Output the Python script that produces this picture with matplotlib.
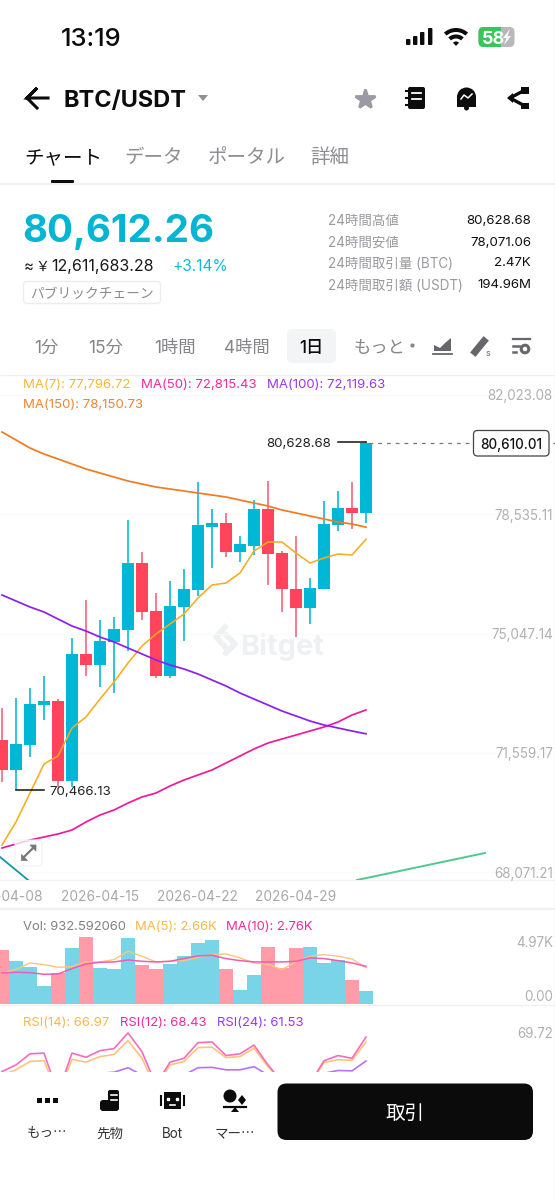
import matplotlib
matplotlib.use("Agg")
import matplotlib.pyplot as plt
from matplotlib.patches import FancyBboxPatch, Rectangle, Circle, Wedge, Polygon

FONT = ['Inter', 'Noto Sans CJK JP', 'DejaVu Sans']
JP = ['Noto Sans CJK JP', 'DejaVu Sans']
plt.rcParams['font.family'] = FONT

# ---------- data ----------
start_dates = ['2026-04-08', '2026-04-15', '2026-04-22', '2026-04-29']
date_idx = [0, 7, 14, 21]
opens = [71938, 71062, 71792, 72960, 73076, 70741, 74448, 74127, 74799, 75149, 77105, 75704, 73806, 75820,
         76317, 78156, 78272, 77426, 77601, 78681, 77397, 76346, 75791, 76346, 78214, 78710, 78564]
closes = [71062, 71821, 72989, 73076, 70741, 74448, 74127, 74828, 75178, 77105, 75674, 73806, 75850, 76346,
          78214, 78272, 77426, 77659, 78681, 77367, 76346, 75791, 76375, 78243, 78710, 78564, 80610.01]
highs = [72872, 73164, 73456, 73806, 73135, 74915, 76025, 75441, 75528, 78360, 77426, 76229, 76579, 76930,
         79469, 78681, 78564, 77893, 78944, 79498, 77455, 77893, 76667, 78914, 79206, 79469, 80628.68]
lows = [70712, 70466.13, 71442, 72522, 70566, 70566, 73806, 73485, 73310, 74536, 75441, 73748, 73748, 74828,
        76141, 76959, 77280, 77134, 77338, 76463, 75674, 74945, 75324, 76346, 78039, 78097, 78272]
ma7 = [68873, 69545, 70391, 71238, 71471, 72289, 72610, 73135, 73631, 74186, 74682, 75033, 75324, 75616,
       76083, 76463, 76521, 76813, 77455, 77718, 77718, 77397, 77105, 77251, 77368, 77339, 77796.72]
ma50 = [68786, 68903, 69019, 69107, 69195, 69311, 69545, 69749, 69895, 70099, 70275, 70391, 70596, 70771,
        70917, 71063, 71267, 71471, 71676, 71851, 71968, 72084, 72201, 72318, 72464, 72668, 72815.43]
ma100 = [76171, 75996, 75821, 75675, 75470, 75266, 75120, 74945, 74799, 74624, 74449, 74274, 74128, 74011,
         73865, 73690, 73515, 73310, 73135, 72960, 72785, 72639, 72493, 72376, 72289, 72201, 72119.63]
ma150 = [80929, 80695, 80462, 80287, 80141, 79995, 79849, 79732, 79615, 79499, 79411, 79323, 79265, 79207,
         79148, 79090, 79032, 78944, 78856, 78769, 78652, 78565, 78477, 78389, 78302, 78243, 78150.73]
teal_x = [-0.14, 1.86]
teal_y = [68523, 67852]
green_x = [25.36, 34.5]
green_y = [67852, 68640]
price_ticks = [82023.08, 78535.11, 75047.14, 71559.17, 68071.21]
price_labels = ['82,023.08', '78,535.11', '75,047.14', '71,559.17', '68,071.21']

vol = [3969, 3185, 2720, 1299, 2279, 4092, 4925, 2646, 2597, 4827, 2891, 2597, 2940, 3528,
       4484, 4680, 2597, 1029, 2156, 4190, 2646, 4116, 4214, 3038, 3210, 1789, 932.59]
vol_ma5 = [2279, 2524, 3014, 2891, 2695, 2744, 3087, 3087, 3259, 3871, 3504, 3087, 3136, 3185,
           3430, 3626, 3675, 3381, 3014, 2891, 2524, 3087, 3504, 3626, 3504, 3308, 2660]
vol_ma10 = [2279, 2328, 2303, 2181, 2205, 2597, 2940, 3063, 3087, 3234, 3136, 3087, 3136, 3332,
            3528, 3577, 3332, 3185, 3087, 3087, 3087, 3136, 3381, 3332, 3185, 3014, 2760]
rsi14 = [57.5, 59.0, 61.4, 61.6, 51.8, 62.0, 61.2, 62.8, 63.4, 67.4, 62.3, 53.7, 60.4, 61.4,
         65.4, 65.5, 62.5, 62.8, 65.2, 59.9, 55.6, 52.3, 54.6, 61.1, 61.9, 61.7, 66.97]
rsi12 = [58.5, 60.4, 63.6, 63.8, 52.3, 63.8, 62.6, 64.5, 65.1, 69.6, 64.2, 54.6, 61.2, 62.3,
         66.8, 67.0, 63.1, 63.6, 66.1, 60.4, 55.6, 51.8, 55.1, 61.6, 63.1, 62.3, 68.43]
rsi24 = [54.6, 55.6, 57.0, 57.3, 51.8, 57.5, 56.6, 58.0, 58.3, 59.6, 57.5, 53.2, 56.6, 57.5,
         59.6, 59.7, 59.0, 59.0, 59.9, 57.5, 54.6, 52.7, 54.2, 58.0, 58.8, 58.7, 61.53]
stat_labels = ['24時間高値', '24時間安値', '24時間取引量 (BTC)', '24時間取引額 (USDT)']
stat_values = ['80,628.68', '78,071.06', '2.47K', '194.96M']
intervals = ['1分', '15分', '1時間', '4時間', '1日', 'もっと']
interval_x = [46, 106, 175, 247, 311, 379]
tabs = ['チャート', 'データ', 'ポータル', '詳細']
tab_x = [63, 154, 247, 330]

# ---------- style ----------
CYAN = '#00b7d5'
RED = '#ff445c'
P2 = 1 / 1.3889  # px to pt at 100 dpi
W, H = 555, 1200
XL = (-1 / 7, 553 / 14)

fig = plt.figure(figsize=(5.55, 12), dpi=100, facecolor='white')


def pax(y0, y1):
    a = fig.add_axes([0, 1 - y1 / H, 1, (y1 - y0) / H])
    a.set_facecolor('none')
    a.set_xlim(*XL)
    for s in a.spines.values():
        s.set_visible(False)
    return a


ui = fig.add_axes([0, 0, 1, 1], zorder=0)
ui.set_xlim(0, W)
ui.set_ylim(H, 0)
ui.axis('off')


def T(x, y, s, px, c='#111111', ha='left', w='normal', z=5, ax=ui, fam=FONT):
    ax.text(x, y, s, fontsize=px * P2, color=c, ha=ha, va='center_baseline', fontweight=w, zorder=z, family=fam)


def hline(y, x0=0, x1=W, c='#f0f0f2', lw=1.0):
    ui.plot([x0, x1], [y, y], color=c, lw=lw, solid_capstyle='butt', zorder=1)


# ---- status bar ----
T(61, 37, '13:19', 25.5, '#0c0c0c', w='medium')
for x, h in zip([406, 413, 420, 428], [6, 9, 13, 17]):
    ui.add_patch(FancyBboxPatch((x, 45 - h), 4.4, h, boxstyle='round,pad=0,rounding_size=1', fc='#0c0c0c', ec='none'))
for r0, r1 in [(0, 4.5), (7.5, 11.5), (14, 18)]:
    ui.add_patch(Wedge((456, 46), r1, 228, 312, width=r1 - r0, fc='#0c0c0c', ec='none'))
ui.add_patch(FancyBboxPatch((478.5, 27), 36, 20, boxstyle='round,pad=0,rounding_size=5', fc='#b8b8ba', ec='none', zorder=2))
ui.add_patch(FancyBboxPatch((478.5, 27), 22, 20, boxstyle='round,pad=0,rounding_size=5', fc='#36c65c', ec='none', zorder=2))
ui.add_patch(Rectangle((494, 27), 6.5, 20, fc='#36c65c', ec='none', zorder=2))
T(482, 37, '58', 18, 'white', w='bold')
ui.add_patch(Polygon([[510, 29], [503, 38], [506.5, 38], [504, 45], [511, 36], [507.5, 36]], fc='white', ec='none', zorder=6))

# ---- header ----
ui.plot([48, 27, 37, 27, 37], [98, 98, 88, 98, 108], color='#0c0c0c', lw=2.2, solid_joinstyle='miter', zorder=5)
T(63.5, 98, 'BTC/USDT', 23.5, '#0c0c0c', w='bold')
ui.add_patch(Polygon([[198, 95], [208, 95], [203, 101]], fc='#909096', ec='none'))
ui.plot([364.5], [98.5], marker='*', ms=15, color='#9a9aa4', mec='#9a9aa4', mew=2)
ui.add_patch(FancyBboxPatch((408, 87), 17, 22, boxstyle='round,pad=0,rounding_size=2', fc='#0c0c0c', ec='none'))
for y in [93, 99]:
    ui.plot([412, 421], [y, y], color='white', lw=1.3, zorder=6)
for y in [91, 98, 105]:
    ui.plot([405.5, 410], [y, y], color='#0c0c0c', lw=1.5, zorder=6)
ui.add_patch(Circle((466.5, 97), 9.5, fc='#0c0c0c', ec='none'))
ui.add_patch(Rectangle((457, 97), 19, 8, fc='#0c0c0c', ec='none'))
ui.add_patch(Rectangle((457, 104.5), 19, 2, fc='#0c0c0c', ec='none'))
ui.add_patch(Circle((466.5, 108), 2.5, fc='#0c0c0c', ec='none'))
ui.plot([461, 464, 468, 472], [99, 95, 98, 94], color='white', lw=1.1, zorder=6)
ui.add_patch(Rectangle((521, 87), 8, 6.5, fc='#0c0c0c', ec='none'))
ui.add_patch(Rectangle((521, 102.5), 8, 6.5, fc='#0c0c0c', ec='none'))
ui.add_patch(Polygon([[507, 98], [513, 93], [513, 103]], fc='#0c0c0c', ec='none'))
ui.plot([525, 510, 525], [90, 98, 106], color='#0c0c0c', lw=2.4)

# ---- tabs ----
for i, (x, s) in enumerate(zip(tab_x, tabs)):
    T(x, 156, s, 19.5, '#0c0c0c' if i == 0 else '#8d8d92', ha='center')
ui.add_patch(FancyBboxPatch((51, 180), 23, 3, boxstyle='round,pad=0,rounding_size=1', fc='#0c0c0c', ec='none', zorder=3))
hline(183.5, c='#eeeeee', lw=1.2)

# ---- price block ----
T(22, 228, '80,612.26', 38.5, '#03b5d3', w='bold')
T(24, 265, '≈', 15, '#1a1a1a')
T(35, 265, '￥', 14, '#1a1a1a', fam=JP)
T(51, 265, '12,611,683.28', 16, '#1a1a1a')
T(172, 265, '+3.14%', 15.5, '#12bcd8')
ui.add_patch(FancyBboxPatch((23.5, 281.5), 137, 22, boxstyle='round,pad=0,rounding_size=4', fc='white', ec='#ececee', lw=1))
T(92, 292.5, 'パブリックチェーン', 13.7, '#8a8a8f', ha='center')
for y, s, v in zip([219, 241, 262, 284], stat_labels, stat_values):
    T(328, y, s, 13.5, '#9a9a9f')
    T(531, y, v, 13.3, '#111111', ha='right')

# ---- intervals ----
ui.add_patch(FancyBboxPatch((287, 329), 49, 34, boxstyle='round,pad=0,rounding_size=5', fc='#f3f4f6', ec='none'))
for i, (x, s) in enumerate(zip(interval_x, intervals)):
    T(x, 346, s, 17.3, '#0c0c0c' if i == 4 else '#858589', ha='center', w='medium' if i == 4 else 'normal')
ui.plot([412], [345], marker='o', ms=2, color='#858589')
ui.add_patch(Polygon([[434, 351], [434, 345], [440, 348], [445, 343], [451, 338], [451, 351]], fc='#66666b', ec='none'))
ui.plot([433, 452], [353.5, 353.5], color='#66666b', lw=1.3)
ui.plot([475, 484], [352, 341], color='#66666b', lw=5)
T(486, 352, 's', 9, '#66666b')
ui.plot([513, 530], [338.5, 338.5], color='#66666b', lw=1.6)
ui.plot([513, 519], [346, 346], color='#66666b', lw=1.8)
ui.plot([513, 516], [352, 352], color='#66666b', lw=1.8)
ui.add_patch(Circle((525, 349), 3.8, fc='white', ec='#66666b', lw=2.2))

# ---- separators ----
hline(375)
hline(880, c='#f2f2f4')
hline(909, c='#f0f0f2', lw=1.6)
hline(1004.5, c='#f0f0f2')
ui.plot([554.5, 554.5], [0, H], color='#b5b5b5', lw=0.8, zorder=9)

# ---- watermark ----
ui.plot([225, 216, 225], [627, 637, 647], color='#eef0f2', lw=4)
ui.plot([226, 235, 226], [635, 644, 653], color='#eef0f2', lw=4)
T(240, 644, 'Bitget', 29, '#eef0f2', w='bold', z=1)

# ---- main chart ----
ax = pax(375, 880)
ax.set_ylim(67852, 82593)
ax.set_yticks(price_ticks, price_labels)
ax.set_xticks(date_idx, start_dates)
ax.tick_params(axis='y', left=False, right=False, labelleft=False, labelright=True, pad=-5, labelsize=13.4 * P2,
               labelcolor='#b0b0b3')
for t in ax.get_yticklabels():
    t.set_ha('right')
ax.tick_params(axis='x', length=0, pad=7, labelsize=13.7 * P2, labelcolor='#a8a8ac')
ax.grid(axis='y', color='#fafafb', lw=0.8)
ax.set_axisbelow(True)
idx = list(range(len(opens)))
up = [c >= o for o, c in zip(opens, closes)]
cols = [CYAN if u else RED for u in up]
ax.vlines(idx, lows, highs, colors=[CYAN if u else '#f55f75' for u in up], lw=1.15, zorder=2)
ax.bar(idx, [abs(c - o) for o, c in zip(opens, closes)], bottom=[min(o, c) for o, c in zip(opens, closes)],
       width=0.9, color=cols, zorder=3)
ax.plot(idx, ma7, color='#f6ad1f', lw=1.15, zorder=4)
ax.plot(idx, ma50, color='#ee1a9c', lw=1.25, zorder=4)
ax.plot(idx, ma100, color='#8b1ef0', lw=1.25, zorder=4)
ax.plot(idx, ma150, color='#f27a20', lw=1.25, zorder=4)
ax.plot(teal_x, teal_y, color='#1098a4', lw=1.3, zorder=4)
ax.plot(green_x, green_y, color='#4fc98c', lw=1.4, zorder=4)
# extreme markers
ax.plot([24, 26], [highs[26], highs[26]], color='#111111', lw=1.1, zorder=5)
ax.plot([1, 3], [lows[1], lows[1]], color='#111111', lw=1.1, zorder=5)
ax.text(23.5, highs[26], '80,628.68', fontsize=13.3 * P2, ha='right', va='center_baseline', color='#222222', zorder=6)
ax.text(3.4, lows[1], '70,466.13', fontsize=13.3 * P2, ha='left', va='center_baseline', color='#222222', zorder=6)
ax.plot([26.2, XL[1]], [closes[26], closes[26]], color='#777777', lw=0.9, ls=(0, (3, 4)), zorder=3)

# legend row
for x, y, s, c in [(23, 384, 'MA(7): 77,796.72', '#f7b63c'), (141, 384, 'MA(50): 72,815.43', '#ef2aa0'),
                   (267, 384, 'MA(100): 72,119.63', '#9a35f2'), (23, 403, 'MA(150): 78,150.73', '#f08434')]:
    T(x, y, s, 13.2, c, z=8)

# overlay: expand icon and last-price box
ui2 = fig.add_axes([0, 0, 1, 1], zorder=6)
ui2.set_xlim(0, W)
ui2.set_ylim(H, 0)
ui2.axis('off')
ui2.patch.set_alpha(0)
ui2.add_patch(FancyBboxPatch((15, 840), 27, 26, boxstyle='round,pad=0,rounding_size=4', fc=(1, 1, 1, 0.75), ec='#f2f2f2', lw=0.8))
ui2.plot([23, 34], [858, 847], color='#777777', lw=1.6)
ui2.add_patch(Polygon([[21, 854], [21, 860], [27, 860]], fc='#777777', ec='#777777', lw=0.5))
ui2.add_patch(Polygon([[36, 845], [30, 845], [36, 851]], fc='#777777', ec='#777777', lw=0.5))
ui2.add_patch(FancyBboxPatch((473.5, 430.5), 75.5, 25.5, boxstyle='round,pad=0,rounding_size=4', fc='white', ec='#444444', lw=0.9))
T(511, 443.5, '80,610.01', 13.4, '#111111', ha='center', w='medium', ax=ui2)

# ---- volume ----
av = pax(909, 1004)
av.set_ylim(0, 6973)
av.bar(idx, vol, width=0.94, color=['#7ad4e8' if u else '#ff9ca8' for u in up], zorder=2)
av.plot(idx, vol_ma5, color='#fbc67a', lw=1.0, zorder=3)
av.plot(idx, vol_ma10, color='#f05cb8', lw=1.1, zorder=3)
av.set_yticks([4970, 0], ['4.97K', '0.00'])
av.set_xticks([])
av.tick_params(axis='y', left=False, labelleft=False, labelright=True, right=False, pad=-5, labelsize=13.4 * P2, labelcolor='#b0b0b3')
labs = av.get_yticklabels()
for t in labs:
    t.set_ha('right')
labs[0].set_va('top')
labs[1].set_va('bottom')
for x, s, c in [(23, 'Vol: 932.592060', '#808085'), (135, 'MA(5): 2.66K', '#f8b84a'), (226, 'MA(10): 2.76K', '#ef2aa0')]:
    T(x, 925, s, 13, c, z=8)

# ---- RSI ----
ar = pax(1005, 1072)
ar.set_ylim(58.37, 77.63)
ar.plot(idx, rsi14, color='#fcc579', lw=1.2, zorder=3)
ar.plot(idx, rsi12, color='#f56cc0', lw=1.2, zorder=4)
ar.plot(idx, rsi24, color='#b872f5', lw=1.2, zorder=2)
ar.set_yticks([69.72], ['69.72'])
ar.set_xticks([])
ar.tick_params(axis='y', left=False, labelleft=False, labelright=True, right=False, pad=-5, labelsize=13.4 * P2, labelcolor='#b0b0b3')
for t in ar.get_yticklabels():
    t.set_ha('right')
for x, s, c in [(23, 'RSI(14): 66.97', '#f8b84a'), (120, 'RSI(12): 68.43', '#ef2aa0'), (217, 'RSI(24): 61.53', '#9a35f2')]:
    T(x, 1021, s, 13.1, c, z=8)

# ---- bottom bar ----
ui.add_patch(FancyBboxPatch((277.5, 1083.5), 255.5, 56.5, boxstyle='round,pad=0,rounding_size=9', fc='#0b0b0b', ec='none', zorder=3))
T(405, 1112, '取引', 19.5, 'white', ha='center')
for x, s, f in zip([47, 110, 172, 235], ['もっ…', '先物', 'Bot', 'マー…'], [JP, FONT, FONT, JP]):
    T(x, 1132, s, 13.5, '#333333', ha='center', fam=f)
for x in [39, 47, 55]:
    ui.add_patch(Rectangle((x - 2.5, 1098), 5, 5, fc='#0b0b0b', ec='none'))
ui.add_patch(FancyBboxPatch((108, 1090), 11, 20, boxstyle='round,pad=0,rounding_size=2', fc='#0b0b0b', ec='none'))
ui.add_patch(FancyBboxPatch((100, 1100), 19, 11, boxstyle='round,pad=0,rounding_size=3', fc='#0b0b0b', ec='none'))
for y in [1095, 1100]:
    ui.plot([111, 117], [y, y], color='white', lw=1.2, zorder=6)
ui.add_patch(Rectangle((164, 1092), 17, 17, fc='#0b0b0b', ec='none'))
ui.plot([160.5, 160.5], [1096, 1105], color='#0b0b0b', lw=1.5)
ui.plot([183.5, 183.5], [1096, 1105], color='#0b0b0b', lw=1.5)
ui.plot([168, 177], [1099, 1099], marker='s', ms=2, ls='none', color='white', zorder=6)
ui.plot([170, 175], [1105, 1105], color='white', lw=1.2, zorder=6)
ui.add_patch(Circle((230, 1096), 6.5, fc='#0b0b0b', ec='none'))
ui.add_patch(Polygon([[242, 1095], [246, 1100], [242, 1105], [238, 1100]], fc='#0b0b0b', ec='none'))
ui.plot([224, 246], [1106.5, 1106.5], color='#0b0b0b', lw=1.6)
ui.add_patch(Polygon([[231, 1112], [235, 1107], [239, 1112]], fc='#0b0b0b', ec='none'))

fig.savefig('out.png', dpi=100, facecolor='white')
